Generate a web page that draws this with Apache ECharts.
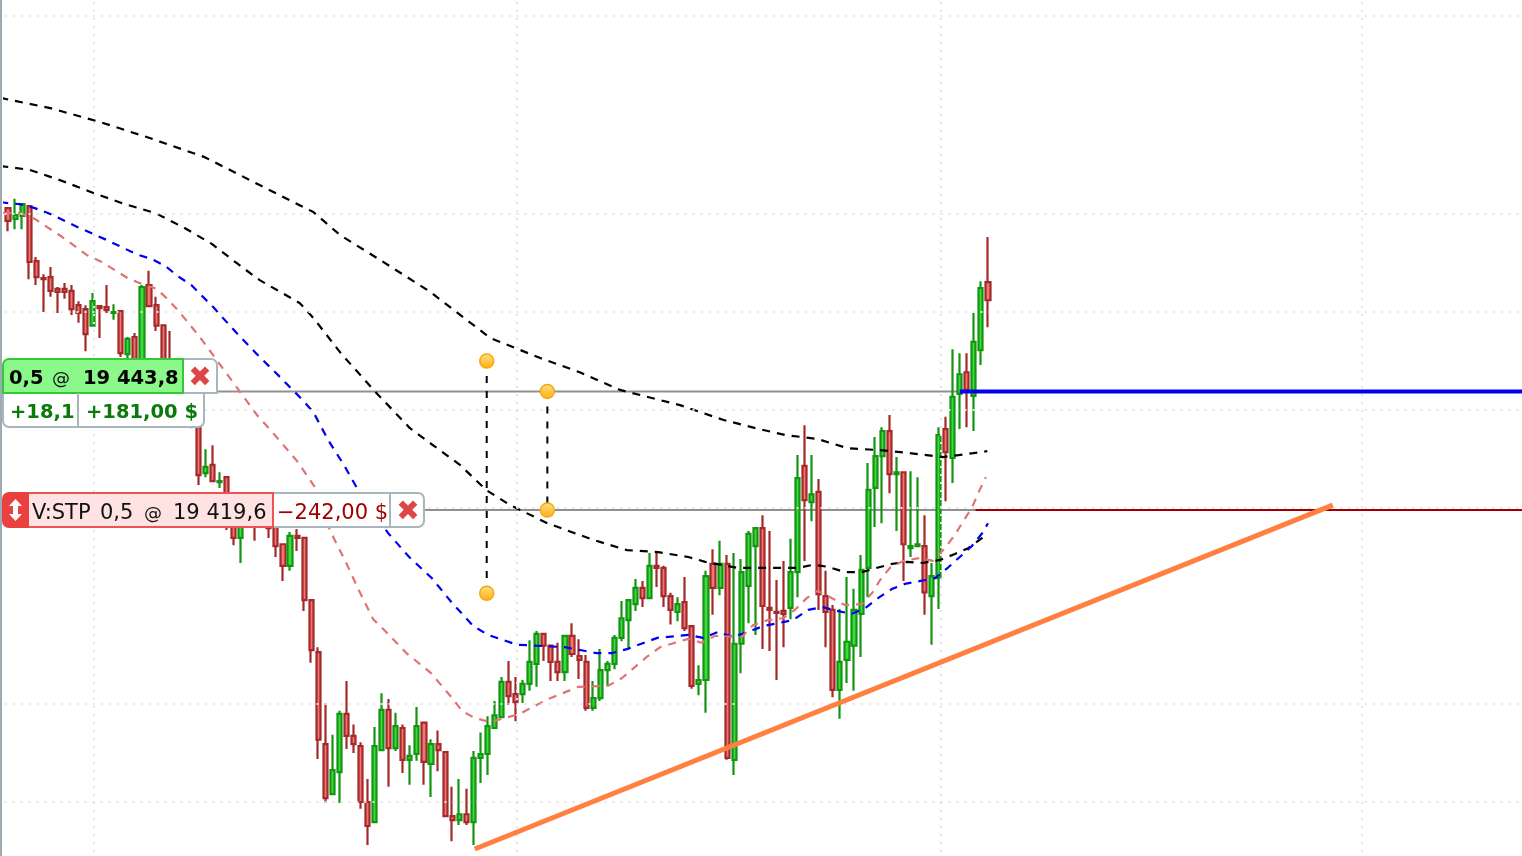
<!DOCTYPE html>
<html><head><meta charset="utf-8">
<style>html,body{margin:0;padding:0;background:#fff}#c{width:1522px;height:856px}</style>
<script src="https://cdn.jsdelivr.net/npm/echarts@6/dist/echarts.min.js"></script>
</head><body><div id="c"></div>
<script>
const opens=[19481.2,19479.0,19479.6,19481.6,19470.4,19466.9,19467.1,19464.7,19464.7,19464.3,
19461.4,19460.6,19457.2,19461.2,19461.0,19459.8,19460.2,19451.4,19454.9,19447.1,
19465.5,19461.4,19457.3,19450.2,19448.2,19446.5,19444.5,19440.4,19427.1,19428.8,
19425.3,19426.3,19419.6,19413.9,19417.1,19418.5,19417.9,19417.1,19419.6,19412.6,
19408.2,19414.3,19413.9,19401.2,19390.6,19371.8,19361.6,19366.1,19378.0,19373.5,
19371.4,19360.0,19355.9,19370.6,19378.8,19371.0,19375.1,19368.6,19369.8,19376.2,
19367.8,19371.8,19370.2,19357.1,19356.3,19357.5,19355.9,19369.0,19369.8,19375.1,
19377.3,19384.5,19382.0,19382.0,19384.1,19388.2,19394.3,19391.9,19388.6,19386.5,
19393.9,19389.8,19388.6,19379.2,19381.2,19386.9,19388.2,19393.5,19397.1,19400.4,
19403.7,19401.6,19408.2,19407.8,19402.0,19398.8,19400.8,19395.9,19384.1,19384.9,
19408.6,19403.7,19408.6,19368.6,19392.3,19404.1,19412.2,19415.9,19399.6,19398.8,
19399.0,19399.6,19406.9,19428.6,19421.2,19423.3,19402.0,19399.2,19382.9,19389.0,
19391.9,19398.4,19407.8,19424.1,19430.6,19435.7,19426.9,19427.3,19411.8,19412.2,
19412.2,19402.0,19405.7,19436.1,19430.2,19443.3,19447.7,19442.9,19452.2,19466.1];
const closes=[19478.6,19479.8,19482.0,19470.2,19467.1,19466.7,19464.3,19464.1,19464.1,19460.6,
19459.8,19455.5,19462.2,19460.8,19460.4,19460.0,19451.6,19454.5,19447.7,19465.1,
19461.2,19457.2,19448.6,19447.7,19446.1,19444.1,19442.0,19426.7,19428.4,19425.5,
19425.5,19420.6,19413.9,19417.5,19417.9,19417.1,19418.7,19415.9,19412.2,19408.2,
19414.3,19413.9,19401.2,19391.0,19372.7,19360.8,19366.5,19378.0,19373.5,19371.8,
19360.0,19355.1,19371.4,19378.8,19371.0,19375.5,19368.6,19369.4,19375.5,19368.2,
19371.8,19370.6,19357.1,19356.3,19357.5,19355.9,19369.0,19369.8,19375.5,19377.7,
19384.5,19381.6,19380.4,19384.1,19388.6,19394.3,19391.9,19388.6,19386.5,19393.9,
19390.2,19389.0,19379.2,19381.2,19386.9,19388.2,19393.5,19397.5,19401.2,19403.7,
19401.6,19408.2,19407.8,19402.0,19399.2,19400.4,19395.5,19383.7,19384.9,19406.1,
19403.7,19408.6,19369.0,19392.3,19406.9,19414.7,19415.9,19400.0,19399.2,19398.6,
19398.4,19406.9,19426.1,19421.6,19422.8,19402.4,19398.8,19382.9,19388.6,19392.7,
19399.2,19407.4,19423.7,19430.6,19435.7,19426.9,19427.3,19412.6,19412.2,19412.6,
19402.8,19406.1,19434.9,19431.4,19442.7,19447.3,19444.1,19453.9,19464.9,19462.4];
const lows=[19476.5,19476.9,19476.9,19466.7,19465.5,19460.0,19463.1,19459.8,19462.7,19459.4,
19457.8,19452.0,19457.2,19454.7,19459.8,19458.4,19450.8,19450.6,19446.5,19446.1,
19461.0,19456.1,19447.7,19445.1,19444.5,19443.1,19436.3,19424.7,19426.3,19425.5,
19424.1,19415.5,19412.4,19408.8,19415.9,19413.3,19416.5,19413.9,19410.0,19405.1,
19407.2,19411.2,19399.0,19388.4,19368.8,19359.8,19361.6,19359.8,19370.8,19370.0,
19358.6,19351.2,19355.9,19370.6,19363.1,19370.4,19365.9,19363.5,19368.4,19363.5,
19361.0,19366.3,19357.1,19352.0,19355.3,19355.3,19351.2,19363.9,19365.5,19375.1,
19377.3,19379.8,19376.5,19380.2,19382.7,19383.5,19388.8,19384.7,19384.7,19384.7,
19389.6,19385.1,19378.6,19378.6,19380.6,19383.7,19387.1,19392.8,19391.2,19399.0,
19399.8,19401.6,19403.9,19399.8,19396.2,19396.9,19394.9,19383.1,19381.8,19378.2,
19398.2,19402.2,19368.6,19365.5,19386.3,19396.5,19394.1,19391.2,19390.8,19384.9,
19391.6,19397.3,19401.8,19409.2,19417.3,19399.2,19391.6,19381.4,19377.0,19384.3,
19382.7,19389.6,19401.8,19416.1,19416.9,19423.0,19415.3,19405.1,19410.0,19412.2,
19398.2,19392.1,19399.4,19421.4,19425.1,19436.1,19436.5,19435.7,19449.2,19456.9];
const highs=[19481.2,19483.1,19482.2,19481.6,19471.2,19467.7,19469.2,19465.1,19465.9,19465.5,
19462.2,19461.4,19463.9,19461.2,19465.5,19461.6,19460.4,19454.9,19455.7,19465.5,
19468.4,19463.1,19457.3,19456.1,19449.2,19447.7,19446.1,19442.0,19432.0,19432.8,
19427.3,19426.3,19422.0,19420.6,19420.6,19421.6,19421.0,19419.6,19421.6,19412.6,
19415.1,19415.7,19413.9,19401.2,19391.6,19380.2,19373.7,19378.6,19384.7,19375.8,
19372.2,19364.7,19375.3,19382.2,19381.0,19378.2,19375.8,19371.6,19379.4,19376.2,
19372.8,19374.6,19370.2,19363.1,19364.7,19362.7,19370.4,19374.2,19377.5,19380.6,
19385.5,19388.8,19385.5,19384.9,19393.0,19394.9,19394.3,19391.9,19392.5,19393.9,
19396.5,19393.2,19390.0,19384.7,19391.2,19388.8,19394.1,19401.0,19401.2,19405.5,
19405.1,19410.8,19410.8,19408.2,19402.7,19401.8,19405.9,19395.9,19387.9,19407.2,
19411.6,19413.3,19410.4,19410.8,19409.6,19415.3,19415.9,19418.5,19415.3,19405.3,
19409.2,19413.7,19430.8,19436.9,19430.8,19425.9,19407.2,19400.2,19399.4,19405.9,
19403.5,19410.4,19429.2,19434.5,19436.5,19439.0,19430.4,19427.3,19427.5,19426.3,
19418.5,19408.8,19436.5,19438.6,19452.4,19451.6,19451.6,19459.8,19466.3,19475.3];

const upperBand=[[-1.1,19503.7],[6,19501.6],[13,19498.8],[20.1,19495.5],[27.9,19491.6],[35.7,19485.9],[43.3,19480.4],[47.1,19475.7],[52.8,19470.6],[59.9,19464.1],[65.5,19457.9],[68.4,19454.7],[75.5,19450.6],[81.1,19447.7],[86.8,19444.1],[95.3,19441.0],[101.4,19438.0],[106,19436.3],[110.2,19434.9],[114.8,19434.1],[119.1,19432.2],[123.7,19431.8],[127.9,19431.2],[132.6,19430.4],[134.8,19430.8],[136.9,19431.2],[138.9,19431.6]];
const lowerBand=[[-1.1,19489.8],[3.1,19489.0],[7.4,19486.9],[12.1,19484.3],[16.6,19482.0],[20.9,19480.2],[25.1,19477.1],[28.9,19473.9],[32.6,19469.8],[35.7,19466.5],[41.4,19461.8],[43.3,19458.8],[47.2,19451.6],[52.1,19443.7],[57,19436.3],[60.3,19432.8],[64.1,19428.8],[67.8,19423.7],[71.2,19420.6],[76.5,19416.9],[83,19413.5],[87.8,19411.4],[92.2,19411.0],[96.5,19410.0],[98.9,19409.0],[103.4,19407.8],[107.7,19407.8],[112.1,19407.8],[114.2,19408.4],[116.3,19408.0],[118.7,19406.9],[121.1,19406.9],[123.3,19407.8],[125.4,19408.6],[127.5,19409.0],[129.8,19408.8],[132.2,19409.4],[134.3,19410.6],[136.2,19411.8],[138.2,19413.9],[138.6,19414.5]];
const blueAverage=[[-1.1,19482.4],[1.7,19482.0],[3.8,19481.2],[6,19480.0],[9.9,19477.3],[14,19474.7],[18.2,19471.8],[20.4,19470.8],[22.3,19469.4],[24.1,19467.3],[26,19465.5],[29.1,19461.0],[32.3,19455.9],[35.3,19451.4],[38.6,19446.7],[41.8,19442.0],[43.3,19439.6],[45.4,19433.9],[47.8,19428.4],[49.8,19423.3],[53.9,19414.9],[56.9,19410.0],[60.1,19405.7],[63,19400.6],[66,19395.9],[68.1,19394.1],[72.2,19392.1],[79,19391.6],[83.4,19390.4],[85.7,19390.4],[87.8,19391.2],[92.1,19393.5],[96.5,19394.1],[98.6,19393.5],[100.7,19394.7],[102.8,19393.7],[105,19394.7],[107.1,19395.9],[111.3,19397.1],[113.5,19399.2],[115.5,19399.8],[117.6,19399.0],[119.7,19398.4],[121.6,19399.6],[123.4,19401.6],[125.4,19403.5],[127.2,19404.5],[131.5,19405.7],[133.3,19407.8],[135,19410.0],[136.7,19412.2],[138.2,19414.9],[139,19416.9]];
const pinkAverage=[[-0.7,19480.2],[1.7,19480.2],[3.8,19479.0],[7.7,19475.3],[11.2,19471.6],[13.3,19470.2],[17,19466.9],[19,19465.7],[21.1,19464.7],[22.8,19462.4],[24.3,19460.0],[27.1,19455.1],[29.8,19449.8],[32.5,19444.5],[35.3,19439.0],[38.2,19434.3],[41.1,19429.4],[43.5,19424.3],[45.7,19415.3],[47.9,19409.0],[49.8,19403.1],[51.8,19397.3],[53.5,19394.9],[56.5,19390.4],[60,19386.3],[63,19381.2],[64.4,19378.6],[66.1,19377.2],[68.4,19376.3],[72.6,19378.0],[76.6,19381.0],[80.9,19383.5],[85.1,19383.7],[87.1,19385.3],[90.6,19389.6],[92.5,19391.6],[96.5,19393.3],[98.4,19392.5],[100.3,19393.9],[104.1,19393.7],[105.7,19396.1],[107.7,19397.1],[109.9,19397.5],[111.6,19399.2],[113.3,19401.6],[114.8,19403.1],[116.6,19401.8],[118.7,19400.2],[121.1,19400.4],[122.6,19402.7],[123.7,19405.3],[125.1,19407.8],[127,19409.2],[129.4,19409.8],[131.2,19409.2],[132.9,19411.8],[134.3,19414.5],[135.4,19417.1],[136.7,19420.0],[137.7,19423.3],[138.7,19426.3]];
const trendLine=[[66.2,19350.4],[187.9,19420.6]];
const entryPrice=19443.8;
const stopPrice=19419.6;
const entryGuide=[[29.6,entryPrice],[135.7,entryPrice]];
const entryActive=[[135,entryPrice],[216,entryPrice]];
const stopGuide=[[59.1,stopPrice],[137.2,stopPrice]];
const stopActive=[[137.2,stopPrice],[216,stopPrice]];
const handleA=[[67.9,19450.0],[67.9,19402.6]];
const handleB=[[76.5,entryPrice],[76.5,stopPrice]];
const gridLevels=[19520.4,19480,19460,19440,19420,19380,19360];
const verticalGuides=[12.1,72.2,132.3,192];
const slots=Array.from({length:216},(_,i)=>String(i));

const chart=echarts.init(document.getElementById('c'),null,{renderer:'canvas',width:1522,height:856});
const dashLine=(data,color,z)=>({type:'line',xAxisIndex:1,data,symbol:'none',clip:false,silent:true,z:z||4,
  lineStyle:{color,width:2.2,type:[8,7]}});
const solid=(data,color,width,z)=>({type:'line',xAxisIndex:1,data,symbol:'none',clip:false,silent:true,z:z||5,
  lineStyle:{color,width}});
const handle=(data)=>({type:'line',xAxisIndex:1,data,symbol:'circle',symbolSize:14,clip:false,silent:true,z:7,showSymbol:true,
  lineStyle:{color:'#000',width:2,type:[7,8]},
  itemStyle:{color:new echarts.graphic.LinearGradient(0,0,0,1,[{offset:0,color:'#ffe08a'},{offset:1,color:'#ffae10'}]),borderColor:'#f6a90f',borderWidth:1.5}});

const box=(x,y,w,h,fill,stroke,r)=>({type:'rect',z:100,silent:true,shape:{x,y,width:w,height:h,r:r||0},style:{fill,stroke,lineWidth:2}});
const txt=(text,x,y,font,fill,align)=>({type:'text',z:101,silent:true,style:{text,x,y,font,fill,align:align||'left',verticalAlign:'middle',textVerticalAlign:'middle'}});
const BF='bold 19.5px "DejaVu Sans"', RF='21px "DejaVu Sans"', AT='18px "DejaVu Sans"', XF='28px "DejaVu Sans"';
const frame='#aab6bd';
const graphicEls=[
 {type:'rect',z:100,silent:true,shape:{x:0,y:0,width:2,height:856},style:{fill:'#9fabb2'}},
 // long position tag
 box(150,359,67,34,'#ffffff',frame,[0,6,0,0]),
 box(3,393,201,34,'#ffffff',frame,[0,0,6,6]),
 {type:'line',z:101,silent:true,shape:{x1:78,y1:393,x2:78,y2:427},style:{stroke:frame,lineWidth:2}},
 box(3,359,180,34,'#8af98a','#36c736',[6,0,0,0]),
 txt('0,5',9,379,BF,'#000'),
 txt('@',52,379,AT,'#111'),
 txt('19 443,8',83,379,BF,'#000'),
 txt('✖',200,379,XF,'#dd4646','center'),
 txt('+18,1',10,413,BF,'#0b7a0b'),
 txt('+181,00 $',86,413,BF,'#0b7a0b'),
 // stop tag
 box(240,493,184,34,'#ffffff',frame,[0,6,6,0]),
 {type:'line',z:101,silent:true,shape:{x1:390,y1:493,x2:390,y2:527},style:{stroke:frame,lineWidth:2}},
 box(27,493,246,34,'#ffe3e3','#ec5353',0),
 box(3,493,25,34,'#ea4040','#ea4040',[6,0,0,6]),
 {type:'polygon',z:102,silent:true,shape:{points:[[15.5,499],[22,506],[18,506],[18,514],[22,514],[15.5,521],[9,514],[13,514],[13,506],[9,506]]},style:{fill:'#fff'}},
 txt('V:STP',32,514,RF,'#111'),
 txt('0,5',100,514,RF,'#111'),
 txt('@',144,514,AT,'#111'),
 txt('19 419,6',173,514,RF,'#111'),
 txt('−242,00 $',277,514,RF,'#a00000'),
 txt('✖',408,513,XF,'#dd4646','center')
];

chart.setOption({
 animation:false,
 backgroundColor:'#ffffff',
 grid:{left:4.5,top:-80,width:1522.8,height:980,containLabel:false,outerBoundsMode:'none'},
 xAxis:[
  {type:'category',data:slots,show:false,boundaryGap:true},
  {type:'value',min:-0.5,max:215.5,show:false,splitLine:{show:false}}
 ],
 yAxis:{type:'value',min:19340,max:19540,interval:20,show:false,splitLine:{show:false}},
 series:[
  {type:'line',xAxisIndex:1,data:[[verticalGuides[0],gridLevels[0]]],symbol:'none',silent:true,z:1,
   markLine:{silent:true,symbol:'none',label:{show:false},animation:false,
    lineStyle:{color:'#e4e4ea',width:2,type:[2,6]},
    data:gridLevels.map(v=>({yAxis:v})).concat(verticalGuides.map(v=>({xAxis:v})))}},
  {type:'candlestick',xAxisIndex:0,barWidth:4.6,z:3,silent:true,
   data:opens.map((o,i)=>[o,closes[i],lows[i],highs[i]]),
   itemStyle:{color:'#3fdc3f',color0:'#f07676',borderColor:'#129612',borderColor0:'#a42a2a',borderWidth:2.2}},
  solid(entryGuide,'#919191',2,3),
  solid(stopGuide,'#919191',2,3),
  dashLine(upperBand,'#000000'),
  dashLine(lowerBand,'#000000'),
  dashLine(blueAverage,'#0000f0'),
  dashLine(pinkAverage,'#e07474'),
  solid(stopActive,'#a00000',2,5),
  solid(entryActive,'#0000ee',4,6),
  solid(trendLine,'#ff8040',5,6),
  handle(handleA),
  handle(handleB)
 ],
 graphic:{elements:graphicEls}
});
</script></body></html>
